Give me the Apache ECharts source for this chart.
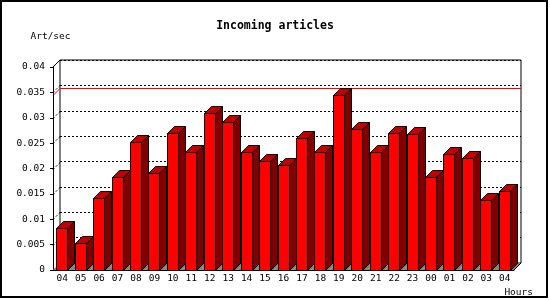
<!DOCTYPE html>
<html><head><meta charset="utf-8">
<script src="https://cdn.jsdelivr.net/npm/echarts@6/dist/echarts.min.js"></script>
<style>html,body{margin:0;padding:0;background:#fff}#c{width:550px;height:300px}</style>
</head><body><div id="c"></div>
<script>
const hours = ['04','05','06','07','08','09','10','11','12','13','14','15','16','17','18','19','20','21','22','23','00','01','02','03','04'];
const artPerSec = [0.0082,0.0053,0.0141,0.0184,0.0253,0.0192,0.0269,0.0232,0.0310,0.0292,0.0232,0.0214,0.0206,0.0261,0.0232,0.0344,0.0277,0.0232,0.0269,0.0267,0.0184,0.0228,0.0220,0.0137,0.0155];
const yTickValues = [0,0.005,0.01,0.015,0.02,0.025,0.03,0.035,0.04];
const yTickLabels = ['0','0.005','0.01','0.015','0.02','0.025','0.03','0.035','0.04'];
const maxLine = [0.0344];

const DEPTH = 7;
const FONT = 'DejaVu Sans Mono';
const chart = echarts.init(document.getElementById('c'), null, {renderer:'canvas'});

function barItem(params, api){
  const i = api.value(0), v = api.value(1);
  const top = api.coord([i, v]), base = api.coord([i, 0]);
  const bw = Math.round(api.size([1,0])[0]*0.6);
  const x1 = Math.floor(top[0]-bw/2)+0.5, x2 = x1+bw;
  const yT = Math.round(top[1])+0.5, yB = Math.round(base[1])+0.5;
  const D = DEPTH;
  return {type:'group', children:[
    {type:'polygon', shape:{points:[[x2,yT],[x2+D,yT-D],[x2+D,yB-D],[x2,yB]]}, style:{fill:'#800000', stroke:'#000', lineWidth:1}},
    {type:'polygon', shape:{points:[[x1,yT],[x1+D,yT-D],[x2+D,yT-D],[x2,yT]]}, style:{fill:'#c00000', stroke:'#000', lineWidth:1}},
    {type:'rect', shape:{x:x1,y:yT,width:bw,height:yB-yT}, style:{fill:'#ff0000', stroke:'#000', lineWidth:1}}
  ]};
}
function floorItem(params, api){
  const i = api.value(0);
  const c = api.coord([i, 0]);
  const w = api.size([1,0])[0];
  const x1 = c[0]-w/2, x2 = c[0]+w/2, y = c[1], D = DEPTH;
  return {type:'polygon', shape:{points:[[x1,y],[x1+D,y-D],[x2+D,y-D],[x2,y]]}, style:{fill:'#808080'}};
}
function tickDiag(params, api){
  const y = Math.round(api.coord([0, api.value(1)])[1])+0.5;
  const x = params.coordSys.x;
  return {type:'line', shape:{x1:x, y1:y, x2:x+DEPTH, y2:y-DEPTH}, style:{stroke:'#000', lineWidth:1, lineDash:[2,2]}};
}
function redLine(params, api){
  const y = Math.round(api.coord([0, api.value(1)])[1])+0.5;
  const cs = params.coordSys, x = cs.x, D = DEPTH;
  return {type:'polyline', shape:{points:[[x,y],[x+D,y-D],[x+cs.width+D,y-D]]}, style:{stroke:'#ff0000', lineWidth:1, fill:null}};
}
function frameDiag(params, api){
  const cs = params.coordSys, D = DEPTH;
  return {type:'group', children:[
    {type:'line', shape:{x1:cs.x, y1:cs.y, x2:cs.x+D, y2:cs.y-D}, style:{stroke:'#000', lineWidth:1}},
    {type:'line', shape:{x1:cs.x+cs.width, y1:cs.y+cs.height, x2:cs.x+cs.width+D, y2:cs.y+cs.height-D}, style:{stroke:'#000', lineWidth:1}}
  ]};
}

const idx = hours.map((h,i)=>i);
chart.setOption({
  animation:false,
  backgroundColor:'#fff',
  title:{text:'Incoming articles', left:'center', top:20, padding:0,
    textStyle:{fontFamily:FONT, fontWeight:'bold', fontSize:11.5, color:'#000'}},
  grid:[
    {left:53, right:36, top:67, bottom:30},
    {left:60, right:29, top:60, bottom:37, show:true, borderColor:'#000', borderWidth:1, backgroundColor:'transparent'}
  ],
  xAxis:[
    {gridIndex:0, type:'category', data:hours,
      axisLine:{lineStyle:{color:'#000', width:1}},
      axisTick:{length:5, lineStyle:{color:'#000'}},
      axisLabel:{interval:0, margin:4, color:'#000', fontFamily:FONT, fontSize:9.5}},
    {gridIndex:1, type:'category', data:hours, show:false}
  ],
  yAxis:[
    {gridIndex:0, type:'value', min:0, max:0.04, interval:0.005,
      name:'Art/sec', nameLocation:'end', nameGap:25,
      nameTextStyle:{fontFamily:FONT, fontSize:9.5, color:'#000', padding:[0,5,0,0]},
      axisLine:{show:true, lineStyle:{color:'#000'}},
      axisTick:{show:true, length:3, lineStyle:{color:'#000'}},
      axisLabel:{margin:8, color:'#000', fontFamily:FONT, fontSize:9.5,
        formatter:(v)=>{const k=yTickValues.findIndex(t=>Math.abs(t-v)<1e-9); return k>=0?yTickLabels[k]:'';}},
      splitLine:{show:false}},
    {gridIndex:1, type:'value', min:0, max:0.04, interval:0.005,
      axisLine:{show:false}, axisTick:{show:false}, axisLabel:{show:false},
      splitLine:{show:true, lineStyle:{color:'#000', width:1, type:[2,2]}}}
  ],
  series:[
    {type:'custom', name:'floor', xAxisIndex:0, yAxisIndex:0, z:3, renderItem:floorItem,
      data:idx.map(i=>[i,0]), silent:true},
    {type:'custom', name:'tickDiag', xAxisIndex:0, yAxisIndex:0, z:3, renderItem:tickDiag,
      data:yTickValues.slice(1, yTickValues.length-1).map(v=>[0,v]), silent:true},
    {type:'custom', name:'frame', xAxisIndex:0, yAxisIndex:0, z:3, renderItem:frameDiag,
      data:[[0,0]], silent:true},
    {type:'custom', name:'max', xAxisIndex:0, yAxisIndex:0, z:4, renderItem:redLine,
      data:maxLine.map(v=>[0,v]), silent:true},
    {type:'custom', name:'Art/sec', xAxisIndex:0, yAxisIndex:0, z:5, renderItem:barItem,
      data:artPerSec.map((v,i)=>[i,v])}
  ],
  graphic:[
    {type:'text', z:10, style:{x:533, y:292.5, text:'Hours', align:'right', verticalAlign:'middle',
      fontFamily:FONT, fontSize:9.5, fill:'#000'}},
    {type:'rect', z:10, shape:{x:1,y:1,width:546,height:296}, style:{fill:'none', stroke:'#000', lineWidth:2}}
  ]
});
</script></body></html>
